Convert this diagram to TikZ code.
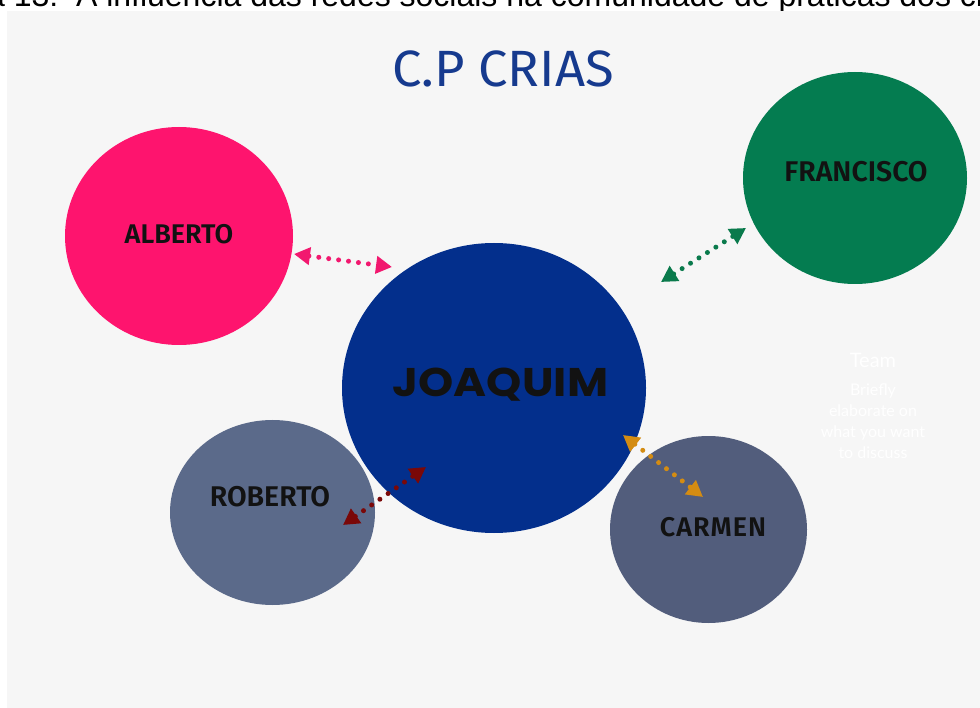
\documentclass[tikz,border=0pt]{standalone}
\usepackage{xcolor}
\usepackage{fontspec}
\usetikzlibrary{arrows.meta, positioning, calc, shapes.geometric}
\setmainfont{Fira Sans}
\newfontfamily\titlefont[FakeStretch=1.03]{Fira Sans}
\newfontfamily\namefont{Fira Sans SemiBold}
\newfontfamily\centrefont[FakeStretch=1.12]{Poppins}
\newfontfamily\captionfont{Liberation Sans}
\newfontfamily\notefont{Lato}

\definecolor{panelgray}{HTML}{F6F6F6}
\definecolor{titleblue}{HTML}{163A8E}
\definecolor{albertopink}{HTML}{FE146E}
\definecolor{franciscogreen}{HTML}{047C50}
\definecolor{joaquimblue}{HTML}{032F8C}
\definecolor{robertoslate}{HTML}{5B6A8A}
\definecolor{carmenslate}{HTML}{525D7C}
\definecolor{nameink}{HTML}{121212}
\definecolor{linkpink}{HTML}{F2186F}
\definecolor{linkgreen}{HTML}{0A7A4C}
\definecolor{linkred}{HTML}{7A0808}
\definecolor{linkorange}{HTML}{D48C12}

\begin{document}
\begin{tikzpicture}[x=1pt, y=-1pt,
    person/.style={ellipse, draw=none, inner sep=0pt},
    nametext/.style={anchor=base, inner sep=0pt, text=nameink,
        font=\namefont\fontsize{27}{30}\selectfont},
    link/.style={line width=5pt, line cap=round, dash pattern=on 0pt off 10pt,
        {Triangle[length=16pt, width=17pt]}-{Triangle[length=16pt, width=17pt]}},
    teamtext/.style={inner sep=0pt, text=white, align=center}]
    \useasboundingbox (0,0) rectangle (980,708);
    % caption cut at the top edge
    \begin{scope}
        \clip (0,0) rectangle (980,11);
        \node[anchor=base west, inner sep=0pt, font=\captionfont\fontsize{32}{36}\selectfont]
            (caption) at (-86,7) {Figura 13:\ \ A influência das redes sociais na comunidade de práticas dos crias};
    \end{scope}
    \fill[panelgray] (7,11) rectangle (980,708);
    \node[anchor=base, inner sep=0pt, text=titleblue, font=\titlefont\fontsize{51}{56}\selectfont]
        (title) at (503,87) {C.P CRIAS};

    % members
    \node[person, fill=albertopink, minimum width=228pt, minimum height=218pt] (alberto) at (179,236) {};
    \node[person, fill=franciscogreen, minimum width=224pt, minimum height=212pt] (francisco) at (855,178) {};
    \node[person, fill=joaquimblue, minimum width=304pt, minimum height=290pt] (joaquim) at (494,388) {};
    \node[person, fill=robertoslate, minimum width=205pt, minimum height=185pt] (roberto) at (272.5,512.5) {};
    \node[person, fill=carmenslate, minimum width=197pt, minimum height=187pt] (carmen) at (708.5,529.5) {};

    \node[nametext] (alberto-name) at ($(alberto)+(0,8)$) {ALBERTO};
    \node[nametext, font=\namefont\fontsize{28.5}{31}\selectfont] (francisco-name) at ($(francisco)+(1,4)$) {FRANCISCO};
    \node[nametext, font=\namefont\fontsize{28.5}{31}\selectfont] (roberto-name) at ($(roberto)+(-2.5,-6)$) {ROBERTO};
    \node[nametext] (carmen-name) at ($(carmen)+(4.5,7)$) {C\kern1pt A\kern1pt R\kern1pt M\kern1pt E\kern1pt N};
    \node[anchor=base, inner sep=0pt, text=nameink, font=\centrefont\bfseries\fontsize{40}{44}\selectfont]
        (joaquim-name) at ($(joaquim)+(6.5,9)$) {JOAQUIM};

    % faint note on the right
    \node[teamtext, font=\notefont\fontsize{20}{22}\selectfont] (team) at (873,360) {Team};
    \node[teamtext, font=\notefont\fontsize{16}{21}\selectfont] (team-note) at (873,421)
        {Briefly\\elaborate on\\what you want\\to discuss};

    % links
    \coordinate (pink-a) at (294,254);
    \coordinate (pink-b) at (392,267);
    \coordinate (green-a) at (661,282);
    \coordinate (green-b) at (746,228);
    \coordinate (red-a) at (343,525);
    \coordinate (red-b) at (426,467);
    \coordinate (orange-a) at (623,435);
    \coordinate (orange-b) at (703,497);
    \draw[link, linkpink] (pink-a) -- (pink-b);
    \draw[link, linkgreen] (green-a) -- (green-b);
    \draw[link, linkred] (red-a) -- (red-b);
    \draw[link, linkorange] (orange-a) -- (orange-b);
\end{tikzpicture}
\end{document}
